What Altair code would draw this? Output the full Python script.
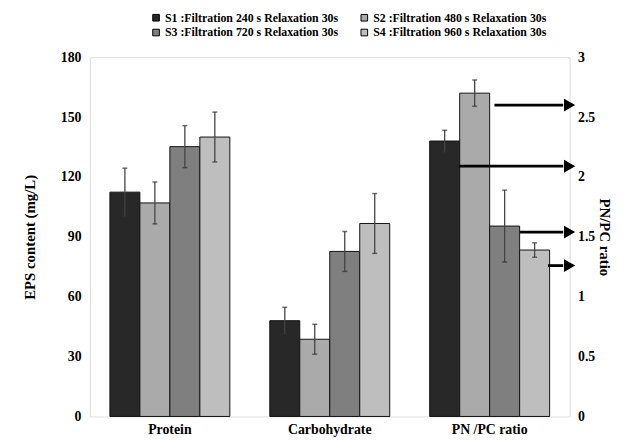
import altair as alt
import pandas as pd

groups = ["Protein", "Carbohydrate", "PN /PC ratio"]
series = [
    "S1 :Filtration 240 s Relaxation 30s",
    "S2 :Filtration 480 s Relaxation 30s",
    "S3 :Filtration 720 s Relaxation 30s",
    "S4 :Filtration 960 s Relaxation 30s",
]
protein_mean = [112.4, 107.0, 135.2, 140.0]
protein_err = [12.0, 10.5, 10.5, 12.5]
carb_mean = [48.0, 38.7, 82.7, 96.7]
carb_err = [6.7, 7.5, 10.0, 15.0]
ratio_mean = [2.30, 2.70, 1.59, 1.39]
ratio_err = [0.09, 0.11, 0.30, 0.06]
# arrows pointing to the right (PN/PC) axis
arrow_value = [2.60, 2.09, 1.54, 1.26]
arrow_start = [2.53, 2.31, 2.69, 2.865]  # along the category axis, in group units

colors = ["#282828", "#aaaaaa", "#7f7f7f", "#bebebe"]
FONT = "Liberation Serif"

rows_l = []
for g, m, e in [(groups[0], protein_mean, protein_err), (groups[1], carb_mean, carb_err)]:
    for s, v, d in zip(series, m, e):
        rows_l.append({"group": g, "series": s, "value": v, "lo": v - d, "hi": v + d})
df_l = pd.DataFrame(rows_l)

df_r = pd.DataFrame({
    "group": [groups[2]] * 4,
    "series": series,
    "value": ratio_mean,
    "lo": [v - d for v, d in zip(ratio_mean, ratio_err)],
    "hi": [v + d for v, d in zip(ratio_mean, ratio_err)],
})

df_a = pd.DataFrame({"start": arrow_start, "value": arrow_value})

xscale = alt.Scale(domain=groups, paddingInner=0.25, paddingOuter=0.125)
xoff = alt.XOffset("series:N", scale=alt.Scale(domain=series))
color = alt.Color(
    "series:N",
    scale=alt.Scale(domain=series, range=colors),
    legend=alt.Legend(
        title=None, orient="none", legendX=61, legendY=-46, columns=2,
        direction="horizontal",
        symbolType="square", symbolSize=45, symbolStrokeColor="black",
        symbolStrokeWidth=1, labelFont=FONT, labelFontWeight="bold",
        labelFontSize=12, labelLimit=400, columnPadding=20, rowPadding=3,
        labelOffset=3,
    ),
)

x_axis = alt.Axis(title=None, labelFont=FONT, labelFontWeight="bold", labelFontSize=14,
                  labelColor="black", ticks=False, domain=False, labelPadding=6, labelAngle=0)

yl = alt.Scale(domain=[0, 180])
yl_axis = alt.Axis(values=[0, 30, 60, 90, 120, 150, 180], title="EPS content (mg/L)",
                   orient="left", ticks=False, domain=False, grid=False,
                   labelFont=FONT, labelFontWeight="bold", labelFontSize=14, labelColor="black",
                   labelPadding=9, titleFont=FONT, titleFontWeight="bold", titleFontSize=15,
                   titleColor="black", titlePadding=23)

left_bars = alt.Chart(df_l).mark_bar(stroke="#111", strokeWidth=1).encode(
    x=alt.X("group:N", scale=xscale, axis=x_axis),
    xOffset=xoff,
    y=alt.Y("value:Q", scale=yl, axis=yl_axis),
    color=color,
)
left_rule = alt.Chart(df_l).mark_rule(color="#444", strokeWidth=1.3).encode(
    x=alt.X("group:N", scale=xscale), xOffset=xoff,
    y=alt.Y("lo:Q", scale=yl), y2="hi:Q",
)
left_cap_hi = alt.Chart(df_l).mark_tick(color="#333", size=5, thickness=1.5, orient="horizontal").encode(
    x=alt.X("group:N", scale=xscale), xOffset=xoff, y=alt.Y("hi:Q", scale=yl))
left_cap_lo = alt.Chart(df_l).mark_tick(color="#333", size=5, thickness=1.5, orient="horizontal").encode(
    x=alt.X("group:N", scale=xscale), xOffset=xoff, y=alt.Y("lo:Q", scale=yl))
left = alt.layer(left_bars, left_rule, left_cap_hi, left_cap_lo)

yr = alt.Scale(domain=[0, 3])
yr_axis = alt.Axis(values=[0, 0.5, 1, 1.5, 2, 2.5, 3], format="~g", title="PN/PC ratio",
                   orient="right", ticks=False, domain=False, grid=False,
                   labelFont=FONT, labelFontWeight="bold", labelFontSize=14, labelColor="black",
                   labelPadding=8, titleFont=FONT, titleFontWeight="bold", titleFontSize=15,
                   titleColor="black", titlePadding=2)

right_bars = alt.Chart(df_r).mark_bar(stroke="#111", strokeWidth=1).encode(
    x=alt.X("group:N", scale=xscale, axis=None),
    xOffset=xoff,
    y=alt.Y("value:Q", scale=yr, axis=yr_axis),
    color=color,
)
right_rule = alt.Chart(df_r).mark_rule(color="#444", strokeWidth=1.3).encode(
    x=alt.X("group:N", scale=xscale, axis=None), xOffset=xoff,
    y=alt.Y("lo:Q", scale=yr), y2="hi:Q",
)
right_cap_hi = alt.Chart(df_r).mark_tick(color="#333", size=5, thickness=1.5, orient="horizontal").encode(
    x=alt.X("group:N", scale=xscale, axis=None), xOffset=xoff, y=alt.Y("hi:Q", scale=yr))
right_cap_lo = alt.Chart(df_r).mark_tick(color="#333", size=5, thickness=1.5, orient="horizontal").encode(
    x=alt.X("group:N", scale=xscale, axis=None), xOffset=xoff, y=alt.Y("lo:Q", scale=yr))
right = alt.layer(right_bars, right_rule, right_cap_hi, right_cap_lo)

xa = alt.Scale(domain=[0, 3])
arrow_line = alt.Chart(df_a).mark_rule(color="black", strokeWidth=2.8).encode(
    x=alt.X("start:Q", scale=xa, axis=None),
    x2=alt.datum(2.96),
    y=alt.Y("value:Q", scale=yr, axis=None),
)
arrow_head = alt.Chart(df_a).mark_point(shape="triangle-right", filled=True, color="black",
                                        size=170, opacity=1, dx=-7).encode(
    x=alt.X("end:Q", scale=xa, axis=None),
    y=alt.Y("value:Q", scale=yr, axis=None),
).transform_calculate(end="3")
arrows = alt.layer(arrow_line, arrow_head)

chart = alt.layer(left, right, arrows).resolve_scale(
    x="independent", y="independent"
).properties(
    width=486, height=364,
    autosize=alt.AutoSizeParams(type="none"),
    padding={"left": 83, "top": 47, "right": 46, "bottom": 24},
).configure_view(stroke="#666", strokeWidth=1.5).configure(background="white")

chart.save("out.html", embed_options={"renderer": "svg", "actions": False})
